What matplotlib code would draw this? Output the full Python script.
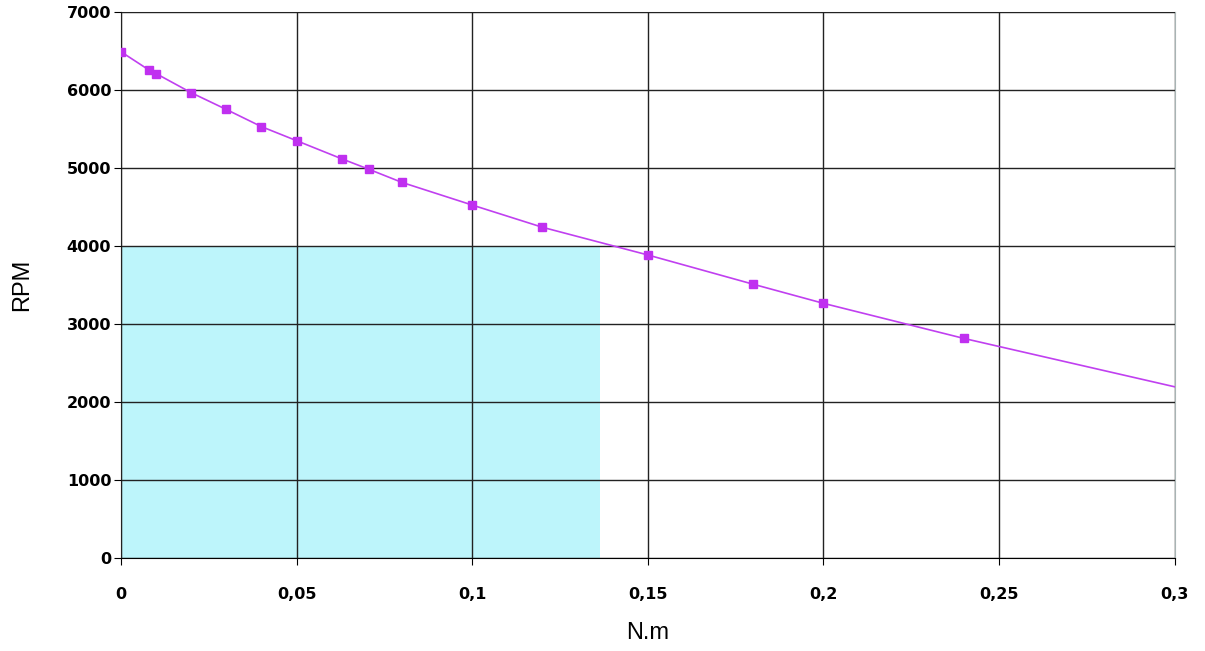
import matplotlib
matplotlib.use('Agg')
import matplotlib.pyplot as plt
from matplotlib.ticker import FuncFormatter

torque = [0, 0.008, 0.01, 0.02, 0.03, 0.04, 0.05, 0.063, 0.0705, 0.08,
          0.1, 0.12, 0.15, 0.18, 0.2, 0.24, 0.3]
rpm = [6490, 6255, 6210, 5965, 5750, 5530, 5350, 5115, 4985, 4815,
       4525, 4240, 3885, 3510, 3265, 2815, 2195]
n_markers = 16  # last point is only the end of the line

zone_torque = 0.1365
zone_rpm = 4000

fig = plt.figure(figsize=(12.05, 6.51), dpi=100)
ax = fig.add_axes([0.1004, 0.1429, 0.8743, 0.8387])

ax.fill_between([0, zone_torque], 0, zone_rpm, color='#bdf5fb', lw=0, zorder=0)
ax.plot(torque, rpm, color='#c040f0', lw=1.2, marker='s', ms=6,
        mfc='#c030f0', mec='#c030f0', markevery=list(range(n_markers)), zorder=3)

ax.set_xlim(0, 0.3)
ax.set_ylim(0, 7000)
ax.set_xticks([0, 0.05, 0.1, 0.15, 0.2, 0.25, 0.3])
ax.set_yticks(range(0, 7001, 1000))
ax.xaxis.set_major_formatter(FuncFormatter(lambda v, p: ('%g' % round(v, 3)).replace('.', ',')))
ax.grid(True, color='#222222', lw=1, zorder=1)
ax.set_axisbelow(False)

for side in ['top', 'right']:
    ax.spines[side].set_color('#a8b4b4')
for side in ['left', 'bottom']:
    ax.spines[side].set_color('black')

ax.tick_params(axis='x', length=5, pad=16, labelsize=11.5)
ax.tick_params(axis='y', length=5, pad=2, labelsize=11.5)
for lab in ax.get_xticklabels() + ax.get_yticklabels():
    lab.set_fontweight('bold')

ax.set_xlabel('N.m', fontsize=17, family='Liberation Sans', labelpad=14)
ax.set_ylabel('RPM', fontsize=17, family='Liberation Sans', labelpad=24)

plt.savefig('out.png', dpi=100)
